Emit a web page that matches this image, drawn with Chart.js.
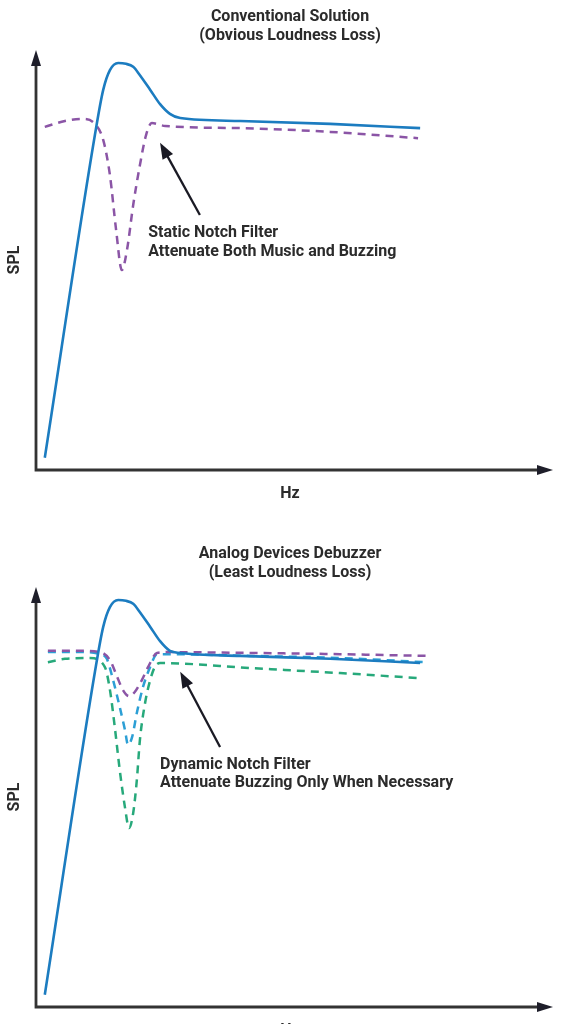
<!DOCTYPE html>
<html>
<head>
<meta charset="utf-8">
<script src="https://cdn.jsdelivr.net/npm/chart.js@4"></script>
<style>
  html, body { margin: 0; padding: 0; background: #fff; overflow: hidden; }
  .wrap { position: absolute; left: 0; width: 564px; height: 510px; }
  #w1 { top: 0; }
  #w2 { top: 537px; }
</style>
</head>
<body>
<div class="wrap" id="w1"><canvas id="c1"></canvas></div>
<div class="wrap" id="w2"><canvas id="c2"></canvas></div>
<script>
// ---------- DATA (arbitrary Hz / SPL units) ----------
// Top chart: Conventional Solution
const topTitle = ["Conventional Solution", "(Obvious Loudness Loss)"];
const topNote = ["Static Notch Filter", "Attenuate Both Music and Buzzing"];
const topMusicX = [1.7, 11.4, 13.0, 14.3, 15.9, 17.4, 18.8, 20.1, 22.1, 24.0, 25.9, 27.9, 39.5, 56.9, 74.3];
const topMusicY = [2.9, 79.8, 90.5, 95.2, 96.9, 96.7, 96.0, 94.0, 90.5, 87.1, 84.8, 83.8, 83.1, 82.4, 81.4];
const topStaticX = [1.7, 5.6, 8.9, 11.4, 13.0, 14.3, 15.5, 16.6, 17.6, 18.8, 20.1, 21.3, 22.4, 25.0, 39.5, 56.9, 73.9];
const topStaticY = [81.7, 83.1, 83.6, 82.4, 78.6, 70.2, 57.1, 47.6, 52.4, 63.1, 72.6, 79.8, 82.6, 81.9, 81.4, 80.5, 79.0];

// Bottom chart: Analog Devices Debuzzer
const botTitle = ["Analog Devices Debuzzer", "(Least Loudness Loss)"];
const botNote = ["Dynamic Notch Filter", "Attenuate Buzzing Only When Necessary"];
const botMusicX = [1.7, 11.4, 13.0, 14.3, 15.9, 17.4, 18.8, 20.1, 22.1, 24.0, 25.9, 27.9, 39.5, 56.9, 74.3];
const botMusicY = [2.9, 79.8, 90.5, 95.2, 96.9, 96.7, 96.0, 94.0, 90.5, 87.1, 84.8, 84.3, 83.6, 82.9, 81.9];
const botLightX = [2.3, 8.5, 12.4, 14.3, 15.7, 16.8, 18.0, 19.1, 20.5, 21.7, 23.4, 25.3, 41.4, 58.8, 75.6];
const botLightY = [84.8, 84.8, 84.5, 82.6, 78.6, 75.5, 74.0, 75.0, 77.9, 81.0, 84.3, 84.5, 84.3, 84.0, 83.6];
const botMediumX = [2.3, 8.5, 12.4, 13.7, 14.9, 16.2, 17.2, 17.8, 18.6, 19.5, 20.7, 22.1, 23.4, 25.3, 41.4, 58.8, 75.2];
const botMediumY = [84.5, 84.5, 84.0, 82.9, 77.9, 71.4, 66.0, 62.4, 64.3, 70.0, 76.2, 81.0, 84.0, 84.0, 83.6, 83.1, 82.1];
const botDeepX = [2.3, 5.6, 10.4, 13.3, 14.3, 15.3, 16.2, 17.2, 18.0, 18.8, 19.5, 20.1, 21.1, 22.1, 23.0, 24.0, 41.4, 58.8, 74.3];
const botDeepY = [82.1, 82.9, 83.1, 81.0, 75.5, 66.0, 56.4, 47.6, 42.6, 46.2, 54.0, 63.6, 72.4, 77.9, 81.0, 81.9, 80.7, 79.5, 78.3];

const axisTitles = { x: "Hz", y: "SPL" };

// ---------- helpers ----------
const zip = (xs, ys) => xs.map((x, i) => ({ x: x, y: ys[i] }));
const BLUE = '#1c7cc0', PURPLE = '#8b55a6', CYAN = '#2c9fd5', GREEN = '#27a97b';
const INK = '#2b2b2b';
const FONT = '700 16px Roboto, "Liberation Sans", sans-serif';

function solid(data, color) {
  return { data: data, borderColor: color, borderWidth: 2.6, pointRadius: 0, fill: false,
           cubicInterpolationMode: 'monotone' };
}
function dashed(data, color) {
  return { data: data, borderColor: color, borderWidth: 2.5, borderDash: [8, 6], pointRadius: 0, fill: false,
           cubicInterpolationMode: 'monotone' };
}

function arrowHead(ctx, x1, y1, x2, y2, len, half) {
  const a = Math.atan2(y2 - y1, x2 - x1);
  ctx.beginPath();
  ctx.moveTo(x2, y2);
  ctx.lineTo(x2 - len * Math.cos(a) + half * Math.sin(a), y2 - len * Math.sin(a) - half * Math.cos(a));
  ctx.lineTo(x2 - len * Math.cos(a) - half * Math.sin(a), y2 - len * Math.sin(a) + half * Math.cos(a));
  ctx.closePath();
  ctx.fill();
}

function decorPlugin(title, note, ann) {
  return {
    id: 'decor',
    afterDatasetsDraw(chart) {
      const ctx = chart.ctx, a = chart.chartArea;
      const xs = chart.scales.x, ys = chart.scales.y;
      ctx.save();
      // axes
      ctx.strokeStyle = '#333'; ctx.fillStyle = '#1e1e2a'; ctx.lineWidth = 2.8;
      ctx.beginPath();
      ctx.moveTo(a.left, a.top + 12); ctx.lineTo(a.left, a.bottom); ctx.lineTo(a.right - 12, a.bottom);
      ctx.stroke();
      arrowHead(ctx, a.left, a.bottom, a.left, a.top, 16, 5);
      arrowHead(ctx, a.left, a.bottom, a.right, a.bottom, 16, 5);
      // titles
      ctx.fillStyle = INK; ctx.font = FONT; ctx.textAlign = 'center'; ctx.textBaseline = 'middle';
      const cx = 290;
      ctx.fillText(title[0], cx, 17);
      ctx.fillText(title[1], cx, 35.5);
      // axis titles
      ctx.fillText(axisTitles.x, cx, a.bottom + 24);
      ctx.save();
      ctx.translate(15, (a.top + a.bottom) / 2);
      ctx.rotate(-Math.PI / 2);
      ctx.fillText(axisTitles.y, 0, 0);
      ctx.restore();
      // annotation arrow
      const tx = xs.getPixelForValue(ann.tail[0]), ty = ys.getPixelForValue(ann.tail[1]);
      const hx = xs.getPixelForValue(ann.tip[0]), hy = ys.getPixelForValue(ann.tip[1]);
      ctx.strokeStyle = '#1a1a24'; ctx.fillStyle = '#1a1a24'; ctx.lineWidth = 2.3;
      const ang = Math.atan2(hy - ty, hx - tx);
      ctx.beginPath(); ctx.moveTo(tx, ty); ctx.lineTo(hx - 12 * Math.cos(ang), hy - 12 * Math.sin(ang)); ctx.stroke();
      arrowHead(ctx, tx, ty, hx, hy, 16, 6);
      // note text
      ctx.fillStyle = INK; ctx.textAlign = 'left';
      const nx = xs.getPixelForValue(ann.text[0]);
      ctx.fillText(note[0], nx, ys.getPixelForValue(ann.text[1]));
      ctx.fillText(note[1], nx, ys.getPixelForValue(ann.text[2]));
      ctx.restore();
    }
  };
}

function makeChart(id, datasets, title, note, ann) {
  return new Chart(document.getElementById(id), {
    type: 'line',
    data: { datasets: datasets },
    options: {
      responsive: true, maintainAspectRatio: false, animation: false,
      layout: { padding: { left: 36, right: 11, top: 50, bottom: 40 } },
      scales: {
        x: { type: 'linear', min: 0, max: 100, display: false },
        y: { type: 'linear', min: 0, max: 100, display: false }
      },
      plugins: { legend: { display: false }, tooltip: { enabled: false }, title: { display: false } },
      elements: { line: { borderCapStyle: 'butt' } }
    },
    plugins: [decorPlugin(title, note, ann)]
  });
}

makeChart('c1', [
  solid(zip(topMusicX, topMusicY), BLUE),
  dashed(zip(topStaticX, topStaticY), PURPLE)
], topTitle, topNote, { tail: [31.7, 60.7], tip: [24.0, 77.9], text: [21.7, 56.4, 51.9] });

makeChart('c2', [
  solid(zip(botMusicX, botMusicY), BLUE),
  dashed(zip(botLightX, botLightY), PURPLE),
  dashed(zip(botMediumX, botMediumY), CYAN),
  dashed(zip(botDeepX, botDeepY), GREEN)
], botTitle, botNote, { tail: [35.6, 61.9], tip: [27.9, 79.8], text: [24.0, 57.6, 53.3] });
</script>
</body>
</html>
